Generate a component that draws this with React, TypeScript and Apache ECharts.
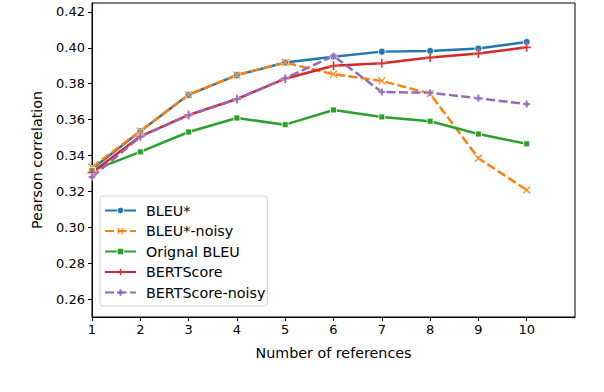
import React, { useEffect, useRef } from "react";
import * as echarts from "echarts";

const refs = [1, 2, 3, 4, 5, 6, 7, 8, 9, 10];
const bleuStar = [0.3325, 0.3535, 0.3738, 0.3848, 0.3918, 0.3951, 0.3979, 0.3983, 0.3996, 0.4033];
const bleuStarNoisy = [0.3335, 0.3537, 0.3739, 0.3849, 0.3918, 0.3853, 0.3816, 0.3744, 0.3385, 0.3208];
const origBleu = [0.3316, 0.342, 0.3531, 0.3609, 0.3572, 0.3654, 0.3615, 0.3591, 0.352, 0.3465];
const bertScore = [0.3305, 0.3507, 0.3626, 0.3715, 0.3828, 0.39, 0.3914, 0.3946, 0.3968, 0.4003];
const bertScoreNoisy = [0.328, 0.3505, 0.3624, 0.3714, 0.3831, 0.3955, 0.3754, 0.375, 0.3719, 0.3687];
const yTicks = [0.26, 0.28, 0.3, 0.32, 0.34, 0.36, 0.38, 0.4, 0.42];
const xTicks = [1, 2, 3, 4, 5, 6, 7, 8, 9, 10];
const seriesNames = ["BLEU*", "BLEU*-noisy", "Orignal BLEU", "BERTScore", "BERTScore-noisy"];
const seriesColors = ["#1f77b4", "#ff7f0e", "#2ca02c", "#d62728", "#9467bd"];

const PLUS = "path://M-1,-5L1,-5L1,-1L5,-1L5,1L1,1L1,5L-1,5L-1,1L-5,1L-5,-1L-1,-1Z";
const XMARK = "path://M-4.2,-3.2L-3.2,-4.2L0,-1L3.2,-4.2L4.2,-3.2L1,0L4.2,3.2L3.2,4.2L0,1L-3.2,4.2L-4.2,3.2L-1,0Z";
const FPLUS = "path://M-1.6,-5L1.6,-5L1.6,-1.6L5,-1.6L5,1.6L1.6,1.6L1.6,5L-1.6,5L-1.6,1.6L-5,1.6L-5,-1.6L-1.6,-1.6Z";
const symbols = ["circle", XMARK, "rect", PLUS, FPLUS];
const sizes = [7, 8, 6, 9, 7];
const dashed = [false, true, false, false, true];
const valuesList = [bleuStar, bleuStarNoisy, origBleu, bertScore, bertScoreNoisy];

const FONT = "DejaVu Sans";

export default function App() {
  const ref = useRef<HTMLDivElement>(null);
  useEffect(() => {
    const chart = echarts.init(ref.current!, undefined, { renderer: "svg" });
    const series = seriesNames.map((name, k) => ({
      name,
      type: "line",
      data: refs.map((r, i) => [r, valuesList[k][i]]),
      symbol: symbols[k],
      symbolSize: sizes[k],
      showSymbol: true,
      lineStyle: { color: seriesColors[k], width: 2.5, type: dashed[k] ? [9, 3.5] : "solid" },
      itemStyle: {
        color: seriesColors[k],
        borderColor: "#fff",
        borderWidth: k === 0 || k === 2 ? 0.8 : 0.3,
      },
      z: 2,
    }));
    chart.setOption({
      animation: false,
      textStyle: { fontFamily: FONT },
      grid: { left: 92, right: 29, top: 3, bottom: 75, show: true, borderColor: "#000", borderWidth: 1, backgroundColor: "transparent" },
      xAxis: {
        type: "value",
        min: 1,
        max: 11,
        interval: 1,
        name: "Number of references",
        nameLocation: "middle",
        nameGap: 29,
        nameTextStyle: { fontFamily: FONT, fontSize: 14.3, color: "#000" },
        axisLine: { lineStyle: { color: "#000", width: 1 } },
        axisTick: { length: 4, lineStyle: { color: "#000" }, customValues: xTicks },
        axisLabel: { fontFamily: FONT, fontSize: 13, color: "#000", margin: 6, customValues: xTicks },
        splitLine: { show: false },
      },
      yAxis: {
        type: "value",
        min: 0.25,
        max: 0.425,
        name: "Pearson correlation",
        nameLocation: "middle",
        nameGap: 48,
        nameTextStyle: { fontFamily: FONT, fontSize: 14.3, color: "#000" },
        axisLine: { show: true, lineStyle: { color: "#000", width: 1 } },
        axisTick: { show: true, length: 4, lineStyle: { color: "#000" }, customValues: yTicks },
        axisLabel: {
          fontFamily: FONT,
          fontSize: 13,
          color: "#000",
          margin: 7,
          customValues: yTicks,
          formatter: (v: number) => v.toFixed(2),
        },
        splitLine: { show: false },
      },
      legend: {
        orient: "vertical",
        left: 100,
        top: 196,
        itemWidth: 31,
        itemHeight: 8,
        itemGap: 6.5,
        padding: [7.5, 2, 6.5, 4],
        borderColor: "#d0d0d0",
        borderWidth: 1,
        borderRadius: 3,
        backgroundColor: "rgba(255,255,255,0.8)",
        textStyle: { fontFamily: FONT, fontSize: 14.3, color: "#000", padding: [0, 0, 0, 5] },
        data: seriesNames.map((name, k) => ({
          name,
          itemStyle: { color: seriesColors[k], borderColor: "#fff", borderWidth: k === 0 || k === 2 ? 0.8 : 0 },
        })),
      },
      series,
    });
    return () => chart.dispose();
  }, []);
  return <div ref={ref} style={{ width: 604, height: 392, position: "absolute", left: 0, top: 0 }} />;
}
